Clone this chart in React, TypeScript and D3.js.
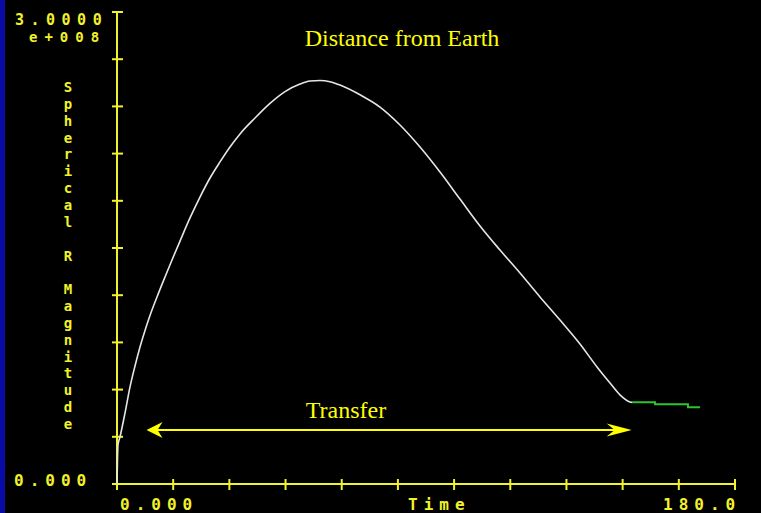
import React from "react";
import * as d3 from "d3";

// Transfer trajectory: time (days) vs spherical R magnitude (millions)
const transferTime = [0, 0.29, 0.87, 2.33, 3.79, 5.24, 6.7, 8.16, 9.61, 11.65, 13.98, 16.02, 18.35, 21.26, 24.17, 27.09, 30.0, 32.91, 35.83, 40.19, 44.56, 48.93, 53.3, 56.21, 59.13, 62.04, 64.95, 70.78, 76.6, 82.43, 88.25, 94.08, 99.9, 105.73, 111.55, 117.38, 123.2, 129.03, 134.85, 139.81, 143.59, 146.5, 149.42, 150.0];
const transferMag = [0, 24.8, 29.9, 45.1, 61.7, 75.0, 87.1, 97.6, 107.1, 118.9, 131.6, 142.4, 154.4, 169.1, 182.4, 194.5, 204.7, 214.2, 222.5, 232.6, 241.9, 249.4, 254.2, 256.1, 256.5, 255.7, 253.6, 247.4, 239.6, 228.2, 214.2, 198.3, 181.1, 164.0, 148.7, 134.1, 118.9, 104.2, 89.0, 74.4, 64.2, 56.6, 52.1, 51.9];

// Post-transfer segment (green)
const coastTime = [150.0, 156.7, 166.3, 169.8];
const coastMag = [51.9, 50.7, 48.8, 48.8];

// Axis settings / labels
const xMax = 180;
const yMax = 3.0e8;
const xTickDivisions = 11;
const yTickDivisions = 10;
const yTopLabel = "3.0000";
const yTopExp = "e+008";
const yBottomLabel = "0.000";
const xLeftLabel = "0.000";
const xRightLabel = "180.0";
const xAxisTitle = "Time";
const yAxisTitle = "Spherical R Magnitude";
const chartTitle = "Distance from Earth";
const transferLabel = "Transfer";
const transferArrowStart = 8.6;
const transferArrowEnd = 149.9;
const transferArrowLevel = 34.3; // millions

const W = 761;
const H = 513;
const YELLOW = "#f2f22a";
const TITLE_YELLOW = "#ffff00";
const MONO = "'DejaVu Sans Mono', monospace";
const SERIF = "'Liberation Serif', 'Times New Roman', serif";

export default function App() {
  const x = d3.scaleLinear().domain([0, xMax]).range([117, 735]);
  const y = d3.scaleLinear().domain([0, yMax]).range([484, 12]);

  const transferPts: [number, number][] = transferTime.map((t, i) => [t, transferMag[i] * 1e6]);
  const coastPts: [number, number][] = coastTime.map((t, i) => [t, coastMag[i] * 1e6]);

  const line = d3
    .line<[number, number]>()
    .x((d) => x(d[0]))
    .y((d) => y(d[1]))
    .curve(d3.curveMonotoneX);
  const stepLine = d3
    .line<[number, number]>()
    .x((d) => x(d[0]))
    .y((d) => y(d[1]))
    .curve(d3.curveStepAfter);

  const xTicks = d3.range(0, xTickDivisions + 1).map((i) => (i * xMax) / xTickDivisions);
  const yTicks = d3.range(0, yTickDivisions + 1).map((i) => (i * yMax) / yTickDivisions);

  const ax0 = x(transferArrowStart);
  const ax1 = x(transferArrowEnd);
  const ay = y(transferArrowLevel * 1e6);

  const yTitleChars = yAxisTitle.split("");

  return (
    <svg
      width={W}
      height={H}
      style={{ position: "absolute", left: 0, top: 0, display: "block" }}
    >
      <rect x={0} y={0} width={W} height={H} fill="#000" />
      <rect x={0} y={0} width={5} height={H} fill="#0a0aa8" />

      {/* Y axis */}
      <line x1={x(0)} x2={x(0)} y1={y(0)} y2={y(yMax)} stroke={YELLOW} strokeWidth={2} />
      {yTicks.map((v, i) => (
        <line key={"yt" + i} x1={x(0) - 5} x2={x(0) + 6} y1={y(v)} y2={y(v)} stroke={YELLOW} strokeWidth={2} />
      ))}
      {/* X axis */}
      <line x1={x(0)} x2={x(xMax)} y1={y(0)} y2={y(0)} stroke={YELLOW} strokeWidth={2} />
      {xTicks.map((v, i) => (
        <line key={"xt" + i} x1={x(v)} x2={x(v)} y1={y(0) - 5} y2={y(0) + 6} stroke={YELLOW} strokeWidth={2} />
      ))}

      {/* Axis labels */}
      <g fill={YELLOW} fontFamily={MONO} fontWeight="bold">
        <text x={15} y={25} fontSize={15} style={{ letterSpacing: "6.5px" }}>{yTopLabel}</text>
        <text x={29} y={41.5} fontSize={14} style={{ letterSpacing: "7px" }}>{yTopExp}</text>
      </g>
      <g fill={YELLOW} fontFamily={MONO} fontSize={16} fontWeight="bold" style={{ letterSpacing: "6px" }}>
        <text x={14} y={486}>{yBottomLabel}</text>
        <text x={120} y={510}>{xLeftLabel}</text>
        <text x={408} y={510}>{xAxisTitle}</text>
        <text x={663} y={510}>{xRightLabel}</text>
      </g>
      <g fill={YELLOW} fontFamily={MONO} fontSize={14} fontWeight="bold" textAnchor="middle">
        {yTitleChars.map((c, i) => (
          <text key={"yc" + i} x={68} y={92 + i * 16.85}>{c}</text>
        ))}
      </g>

      {/* Data */}
      <path d={line(transferPts) || ""} fill="none" stroke="#e6e6e6" strokeWidth={1.6} />
      <path d={stepLine(coastPts) || ""} fill="none" stroke="#2ec42e" strokeWidth={2} />

      {/* Transfer arrow */}
      <line x1={ax0 + 8} x2={ax1 - 10} y1={ay} y2={ay} stroke={TITLE_YELLOW} strokeWidth={2} />
      <path
        d={`M${ax0},${ay} L${ax0 + 16},${ay - 8} L${ax0 + 11},${ay} L${ax0 + 16},${ay + 8} Z`}
        fill={TITLE_YELLOW}
      />
      <path
        d={`M${ax1},${ay} L${ax1 - 25},${ay - 6.5} L${ax1 - 17},${ay} L${ax1 - 25},${ay + 6.5} Z`}
        fill={TITLE_YELLOW}
      />

      <text x={346} y={418} fill={TITLE_YELLOW} fontFamily={SERIF} fontSize={24} textAnchor="middle">
        {transferLabel}
      </text>
      <text x={402} y={46} fill={TITLE_YELLOW} fontFamily={SERIF} fontSize={24} textAnchor="middle">
        {chartTitle}
      </text>
    </svg>
  );
}
